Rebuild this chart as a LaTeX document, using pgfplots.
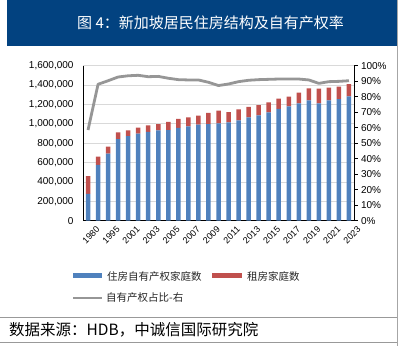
\documentclass[border=0pt]{standalone}
\usepackage{fontspec}
\setmainfont{Liberation Sans}
\newfontfamily\cjk{Noto Sans CJK SC}
\usepackage{pgfplots}
\usepackage{pgfplotstable}
\pgfplotsset{compat=1.18}
\definecolor{ownblue}{RGB}{79,129,189}
\definecolor{rentred}{RGB}{192,80,77}
\definecolor{linegray}{RGB}{150,150,150}
\definecolor{banner}{RGB}{2,66,128}

\pgfplotstableread{
x own rent pct
0 276000 185000 58.5
1 575000 86000 88.0
2 692000 72000 90.3
3 843000 69000 92.7
4 874000 59000 93.5
5 898000 62000 93.8
6 916000 69000 92.9
7 933000 65000 93.1
8 936000 83000 91.9
9 957000 93000 91.0
10 974000 93000 90.8
11 991000 93000 90.8
12 998000 114000 89.3
13 1005000 131000 87.2
14 1015000 107000 88.2
15 1036000 114000 89.7
16 1067000 107000 90.6
17 1088000 106000 91.0
18 1119000 103000 91.2
19 1153000 106000 91.4
20 1181000 99000 91.4
21 1212000 109000 91.4
22 1243000 124000 90.8
23 1212000 151000 88.6
24 1243000 130000 89.7
25 1256000 127000 89.9
26 1284000 127000 90.3
}\datatable

\begin{document}
\begin{tikzpicture}
\path[use as bounding box] (0,0) rectangle (407bp,346bp);
\fill[banner] (7bp,300bp) rectangle (396.5bp,346bp);
\node[text=white, inner sep=0, font=\cjk\fontsize{15bp}{18bp}\selectfont] at (210.5bp,323bp) {图 4：新加坡居民住房结构及自有产权率};
\draw[black!35, line width=0.8bp] (397.5bp,0) -- (397.5bp,346bp);

\begin{axis}[
  at={(83bp,125.3bp)}, anchor=south west, scale only axis,
  width=271bp, height=155bp,
  xmin=-0.5, xmax=26.5, ymin=0, ymax=1600000,
  ybar stacked, bar width=4.5bp,
  axis lines*=left,
  axis line style={black, line width=0.8bp},
  ymajorgrids, grid style={black!15, line width=0.7bp},
  major tick length=0pt,
  ytick={0,200000,...,1600000},
  scaled y ticks=false,
  /pgf/number format/fixed,
  /pgf/number format/1000 sep={,},
  /pgf/number format/assume math mode=true,
  yticklabel style={font=\fontsize{10bp}{12bp}\selectfont, xshift=-6bp},
  xtick={0,2,...,26},
  xticklabels={1980,1995,2001,2003,2005,2007,2009,2011,2013,2015,2017,2019,2021,2023},
  xticklabel style={font=\fontsize{9bp}{10bp}\selectfont, rotate=45, anchor=north east, inner sep=1bp, yshift=-8bp, xshift=3bp},
]
\addplot[fill=ownblue, draw=none] table[x=x,y=own]{\datatable};
\addplot[fill=rentred, draw=none] table[x=x,y=rent]{\datatable};
\end{axis}

\begin{axis}[
  at={(83bp,125.3bp)}, anchor=south west, scale only axis,
  width=271bp, height=155bp,
  xmin=-0.5, xmax=26.5, ymin=0, ymax=100,
  hide x axis, xtick=\empty,
  axis y line*=right,
  axis line style={black, line width=0.8bp},
  tick align=outside, major tick length=3.5bp,
  tick style={black, line width=0.8bp},
  ytick={0,10,...,100},
  /pgf/number format/assume math mode=true,
  yticklabel={\pgfmathprintnumber{\tick}\%},
  yticklabel style={font=\fontsize{10bp}{12bp}\selectfont},
]
\addplot[linegray, line width=2.8bp, line join=round, mark=none] table[x=x,y=pct]{\datatable};
\end{axis}

% legend
\fill[ownblue] (73bp,67.5bp) rectangle (102bp,72.5bp);
\node[anchor=west, inner sep=0, text=black!85, font=\cjk\fontsize{10.5bp}{12bp}\selectfont] at (107bp,70bp) {住房自有产权家庭数};
\fill[rentred] (212bp,67.5bp) rectangle (242bp,72.5bp);
\node[anchor=west, inner sep=0, text=black!85, font=\cjk\fontsize{10.5bp}{12bp}\selectfont] at (247bp,70bp) {租房家庭数};
\draw[linegray, line width=2.8bp] (73bp,48bp) -- (102bp,48bp);
\node[anchor=west, inner sep=0, text=black!85, font=\cjk\fontsize{10.5bp}{12bp}\selectfont] at (106bp,48bp) {自有产权占比-右};

% source
\draw[black!40, line width=0.8bp] (0,29bp) -- (397bp,29bp);
\draw[black!40, line width=0.8bp] (0,4bp) -- (397bp,4bp);
\node[anchor=west, inner sep=0, font=\cjk\fontsize{15.5bp}{18bp}\selectfont] at (9bp,16.5bp) {数据来源：HDB，中诚信国际研究院};
\end{tikzpicture}
\end{document}
